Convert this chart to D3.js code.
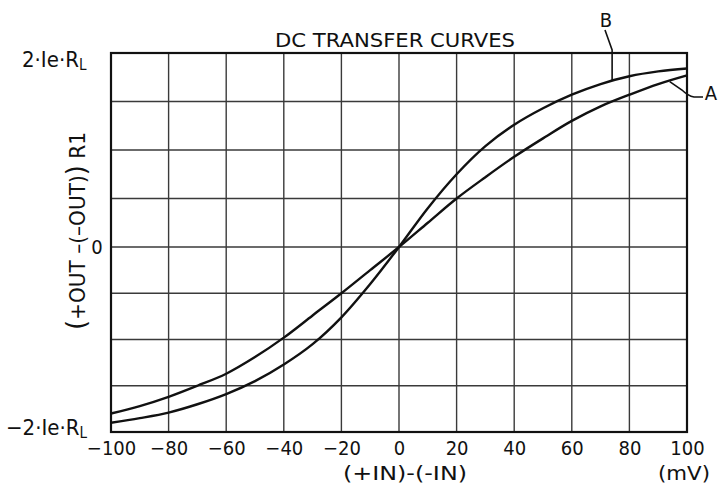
<!DOCTYPE html>
<html>
<head>
<meta charset="utf-8">
<script src="https://cdn.jsdelivr.net/npm/d3@7"></script>
<style>
  html, body { margin: 0; padding: 0; background: #fff; }
  svg { display: block; }
  text { font-family: "DejaVu Sans Condensed", "DejaVu Sans", "Liberation Sans", sans-serif; font-stretch: condensed; fill: #111; }
</style>
</head>
<body>
<svg id="chart" width="719" height="489"></svg>
<script>
// ---- data ----
const xValues = [-100, -90, -80, -70, -60, -50, -40, -30, -20, -10, 0, 10, 20, 30, 40, 50, 60, 70, 80, 90, 100];
const seriesA = [-1.80, -1.72, -1.62, -1.50, -1.37, -1.19, -0.98, -0.74, -0.50, -0.25, 0, 0.25, 0.50, 0.72, 0.93, 1.12, 1.30, 1.45, 1.57, 1.68, 1.77];
const seriesB = [-1.90, -1.85, -1.79, -1.70, -1.59, -1.45, -1.27, -1.05, -0.76, -0.40, 0, 0.40, 0.75, 1.04, 1.26, 1.43, 1.57, 1.68, 1.76, 1.81, 1.84];
const xTicks = [-100, -80, -60, -40, -20, 0, 20, 40, 60, 80, 100];
const xTickLabels = ["\u2212100", "\u221280", "\u221260", "\u221240", "\u221220", "0", "20", "40", "60", "80", "100"];
const yGrid = [-2, -1.5, -1, -0.5, 0, 0.5, 1, 1.5, 2];
const titleText = "DC TRANSFER CURVES";
const xTitle = "(+IN)-(-IN)";
const xUnit = "(mV)";

// ---- scales ----
const svg = d3.select("#chart");
const x = d3.scaleLinear().domain([-100, 100]).range([111, 687]);
const y = d3.scaleLinear().domain([-2, 0, 2]).range([432, 247, 53]);

// grid
const g = svg.append("g");
g.selectAll("line.v").data(xTicks).join("line")
  .attr("x1", d => x(d)).attr("x2", d => x(d))
  .attr("y1", y(2)).attr("y2", y(-2))
  .attr("stroke", "#3a3a3a").attr("stroke-width", 1.4);
g.selectAll("line.h").data(yGrid).join("line")
  .attr("x1", x(-100)).attr("x2", x(100))
  .attr("y1", d => y(d)).attr("y2", d => y(d))
  .attr("stroke", "#3a3a3a").attr("stroke-width", 1.4);
// frame
g.append("rect")
  .attr("x", x(-100)).attr("y", y(2))
  .attr("width", x(100) - x(-100)).attr("height", y(-2) - y(2))
  .attr("fill", "none").attr("stroke", "#111").attr("stroke-width", 2.2);

// x axis labels via d3 axis
const xAxis = d3.axisBottom(x).tickValues(xTicks).tickSize(0).tickPadding(0)
  .tickFormat((d, i) => xTickLabels[i]);
const ax = svg.append("g").attr("transform", `translate(0,${y(-2)})`).call(xAxis);
ax.select(".domain").remove();
ax.selectAll("text")
  .attr("y", 23).attr("dy", 0)
  .style("font-size", "20px")
  .style("font-family", "\"DejaVu Sans Condensed\", \"DejaVu Sans\", sans-serif")
  .style("font-stretch", "condensed")
  .attr("fill", "#111");

// curves
const line = d3.line().x(d => x(d[0])).y(d => y(d[1])).curve(d3.curveCatmullRom.alpha(0.5));
const dataA = xValues.map((v, i) => [v, seriesA[i]]);
const dataB = xValues.map((v, i) => [v, seriesB[i]]);
svg.append("path").datum(dataA).attr("d", line)
  .attr("fill", "none").attr("stroke", "#111").attr("stroke-width", 2.4);
svg.append("path").datum(dataB).attr("d", line)
  .attr("fill", "none").attr("stroke", "#111").attr("stroke-width", 2.4);

// leader lines
function interp(xs, ys, xv) {
  for (let i = 0; i < xs.length - 1; i++) {
    if (xv >= xs[i] && xv <= xs[i + 1]) {
      const t = (xv - xs[i]) / (xs[i + 1] - xs[i]);
      return ys[i] + t * (ys[i + 1] - ys[i]);
    }
  }
  return ys[ys.length - 1];
}
const bx = 74, ax2 = 94;
svg.append("path")
  .attr("d", `M605,30 L${x(bx)},50 L${x(bx)},${y(interp(xValues, seriesB, bx))}`)
  .attr("fill", "none").attr("stroke", "#111").attr("stroke-width", 1.6);
svg.append("path")
  .attr("d", `M703,97 L694,97 Q688,96 682,90 L${x(ax2)},${y(interp(xValues, seriesA, ax2)) + 1}`)
  .attr("fill", "none").attr("stroke", "#111").attr("stroke-width", 1.6);

svg.append("text").attr("x", 606).attr("y", 27).attr("text-anchor", "middle")
  .style("font-size", "20px").text("B");
svg.append("text").attr("x", 711).attr("y", 100).attr("text-anchor", "middle")
  .style("font-size", "20px").text("A");

// title
svg.append("text").attr("x", 395).attr("y", 47).attr("text-anchor", "middle")
  .attr("textLength", 240).attr("lengthAdjust", "spacingAndGlyphs")
  .style("font-size", "20px").text(titleText);

// x titles
svg.append("text").attr("x", 405).attr("y", 480).attr("text-anchor", "middle")
  .attr("textLength", 124).attr("lengthAdjust", "spacingAndGlyphs")
  .style("font-size", "19px").text(xTitle);
svg.append("text").attr("x", 684).attr("y", 480).attr("text-anchor", "middle")
  .attr("textLength", 52).attr("lengthAdjust", "spacingAndGlyphs")
  .style("font-size", "19px").text(xUnit);

// y labels
const topLab = svg.append("text").attr("x", 22).attr("y", 67).style("font-size", "22px");
topLab.append("tspan").text("2\u00b7Ie\u00b7R");
topLab.append("tspan").attr("dy", 3).style("font-size", "15px").text("L");

const botLab = svg.append("text").attr("x", 6).attr("y", 435).style("font-size", "22px");
botLab.append("tspan").text("\u22122\u00b7Ie\u00b7R");
botLab.append("tspan").attr("dy", 3).style("font-size", "15px").text("L");

svg.append("text").attr("x", 97).attr("y", 254).attr("text-anchor", "middle")
  .style("font-size", "20px").text("0");

// rotated y title
const yt = svg.append("text")
  .attr("transform", "translate(85,231) rotate(-90)")
  .attr("text-anchor", "middle")
  .attr("textLength", 198).attr("lengthAdjust", "spacingAndGlyphs")
  .style("font-size", "21px");
yt.append("tspan").style("font-size", "27px").text("(");
yt.append("tspan").text("+OUT \u2013(\u2013OUT)");
yt.append("tspan").style("font-size", "27px").text(")");
yt.append("tspan").text(" R1");
</script>
</body>
</html>
